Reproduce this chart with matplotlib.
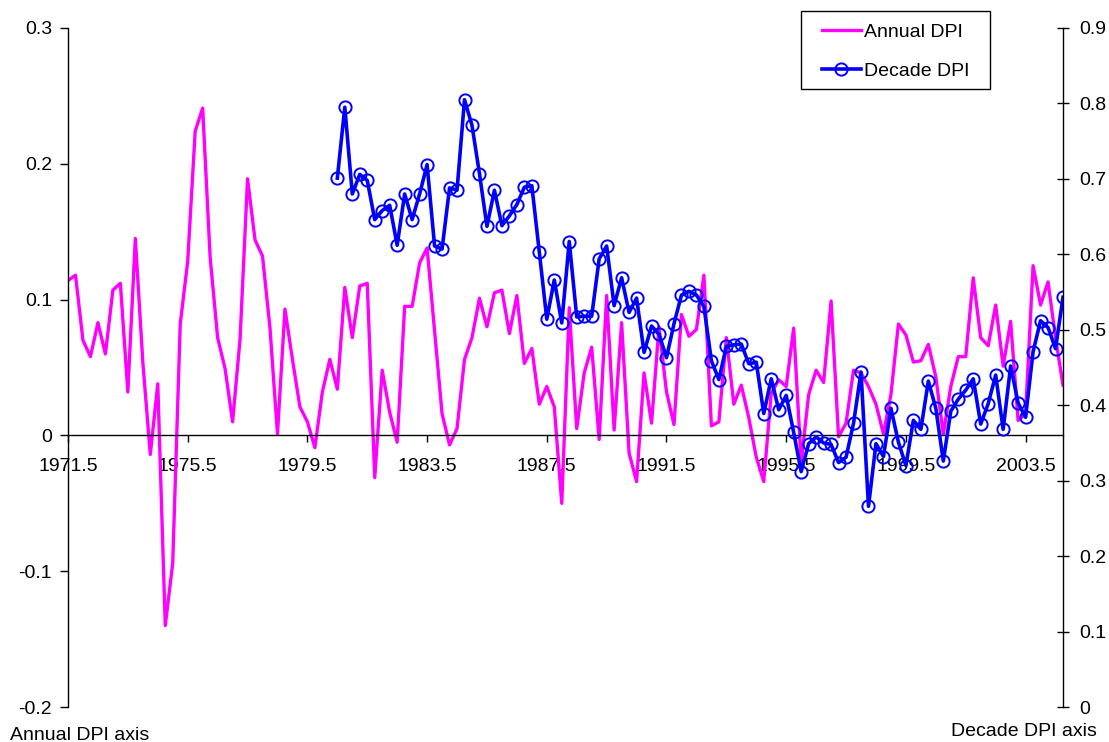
import numpy as np
import matplotlib
matplotlib.use("Agg")
import matplotlib.pyplot as plt
from matplotlib.patches import Rectangle

plt.rcParams["font.family"] = ["Liberation Sans", "DejaVu Sans"]

# Quarterly dates
start_year = 1971.5
n_quarters = 134
dates = start_year + 0.25 * np.arange(n_quarters)

# Annual DPI (left axis), one value per quarter
annual_dpi = [
    0.114, 0.118, 0.070, 0.058, 0.083, 0.060, 0.107, 0.112, 0.032, 0.145,
    0.054, -0.014, 0.038, -0.140, -0.094, 0.082, 0.128, 0.224, 0.241, 0.131,
    0.072, 0.049, 0.010, 0.071, 0.189, 0.144, 0.132, 0.079, 0.001, 0.093,
    0.056, 0.021, 0.010, -0.009, 0.032, 0.056, 0.034, 0.109, 0.072, 0.110,
    0.112, -0.031, 0.048, 0.017, -0.005, 0.095, 0.095, 0.127, 0.138, 0.077,
    0.016, -0.007, 0.005, 0.056, 0.072, 0.101, 0.080, 0.105, 0.107, 0.075,
    0.103, 0.053, 0.064, 0.023, 0.036, 0.021, -0.050, 0.094, 0.005, 0.046,
    0.065, -0.003, 0.103, 0.004, 0.083, -0.013, -0.034, 0.046, 0.009, 0.080,
    0.032, 0.008, 0.089, 0.073, 0.078, 0.118, 0.007, 0.010, 0.072, 0.023,
    0.037, 0.013, -0.016, -0.034, 0.031, 0.041, 0.036, 0.079, -0.020, 0.030,
    0.048, 0.039, 0.099, -0.001, 0.009, 0.048, 0.046, 0.036, 0.023, 0.001,
    0.030, 0.082, 0.074, 0.054, 0.055, 0.067, 0.043, 0.001, 0.036, 0.058,
    0.058, 0.116, 0.072, 0.066, 0.096, 0.051, 0.084, 0.011, 0.016, 0.125,
    0.096, 0.113, 0.072, 0.037,
]

# Decade DPI (right axis), begins at quarter index 36
decade_start = 36
decade_dpi = [
    0.701, 0.795, 0.680, 0.706, 0.698, 0.646, 0.658, 0.665, 0.612, 0.680,
    0.646, 0.680, 0.719, 0.611, 0.607, 0.688, 0.685, 0.805, 0.771, 0.707,
    0.637, 0.685, 0.638, 0.651, 0.666, 0.689, 0.691, 0.603, 0.514, 0.566,
    0.509, 0.617, 0.517, 0.518, 0.518, 0.594, 0.611, 0.532, 0.569, 0.523,
    0.542, 0.470, 0.505, 0.494, 0.463, 0.508, 0.546, 0.551, 0.546, 0.531,
    0.459, 0.434, 0.478, 0.480, 0.481, 0.455, 0.457, 0.389, 0.435, 0.394,
    0.413, 0.364, 0.312, 0.349, 0.358, 0.350, 0.348, 0.324, 0.331, 0.376,
    0.444, 0.266, 0.349, 0.332, 0.396, 0.351, 0.320, 0.380, 0.368, 0.432,
    0.396, 0.326, 0.392, 0.408, 0.420, 0.435, 0.375, 0.402, 0.440, 0.368,
    0.452, 0.403, 0.384, 0.471, 0.512, 0.503, 0.475, 0.543,
]
decade_dates = dates[decade_start:decade_start + len(decade_dpi)]

x_ticks = np.arange(1971.5, 2004.0, 4.0)
left_ticks = [-0.2, -0.1, 0, 0.1, 0.2, 0.3]
right_ticks = np.round(np.arange(0, 0.91, 0.1), 1)

W, H = 1109, 742
fig = plt.figure(figsize=(W / 100, H / 100), dpi=100)
ax = fig.add_axes([68 / W, 1 - 707 / H, (1063 - 68) / W, (707 - 28) / H])
ax2 = ax.twinx()

pink = "#FF00FF"
blue = "#0000FF"
fs = 14

l1, = ax.plot(dates, annual_dpi, color=pink, lw=2.4, label="Annual DPI")
l2, = ax2.plot(decade_dates, decade_dpi, color=blue, lw=2.6, marker="o",
               markersize=8.8, markerfacecolor="none", markeredgecolor=blue,
               markeredgewidth=1.4, label="Decade DPI")

ax.set_xlim(dates[0], dates[-1])
ax.set_ylim(-0.2, 0.3)
ax2.set_ylim(0, 0.9)

ax.set_xticks(x_ticks)
ax.set_xticklabels([f"{t:.1f}" for t in x_ticks])
ax.set_yticks(left_ticks)
ax.set_yticklabels(["-0.2", "-0.1", "0", "0.1", "0.2", "0.3"])
ax2.set_yticks(right_ticks)
ax2.set_yticklabels(["0"] + [f"{v:.1f}" for v in right_ticks[1:]])

ax.spines["top"].set_visible(False)
ax2.spines["top"].set_visible(False)
ax.spines["right"].set_visible(False)
ax2.spines["left"].set_visible(False)
ax2.spines["bottom"].set_visible(False)
ax.spines["bottom"].set_position(("data", 0))
for sp in (ax.spines["left"], ax.spines["bottom"], ax2.spines["right"]):
    sp.set_linewidth(1.0)
    sp.set_color("black")

ax.tick_params(axis="x", direction="out", length=5, width=1, pad=11,
               labelsize=fs, colors="black")
ax.tick_params(axis="y", direction="out", length=5.5, width=1, pad=6,
               labelsize=fs, colors="black")
ax2.tick_params(axis="y", direction="inout", length=9, width=1, pad=7,
                labelsize=fs, colors="black")

fig.text(10 / W, 1 - 735 / H, "Annual DPI axis", fontsize=fs, ha="left", va="center")
fig.text(1097 / W, 1 - 731 / H, "Decade DPI axis", fontsize=fs, ha="right", va="center")

# Legend entries without a frame; the box is drawn separately
leg = fig.legend(handles=[l1, l2], loc="upper left",
                 bbox_to_anchor=(822 / W, 1 - 23 / H), fontsize=fs,
                 frameon=False, borderpad=0, labelspacing=1.1,
                 handlelength=2.0, handletextpad=0.15, borderaxespad=0)
fig.patches.append(Rectangle((801 / W, 1 - 89 / H), (990 - 801) / W, (89 - 11.5) / H,
                             transform=fig.transFigure, fill=False,
                             edgecolor="black", linewidth=1.0))

fig.savefig("out.png", dpi=100)
